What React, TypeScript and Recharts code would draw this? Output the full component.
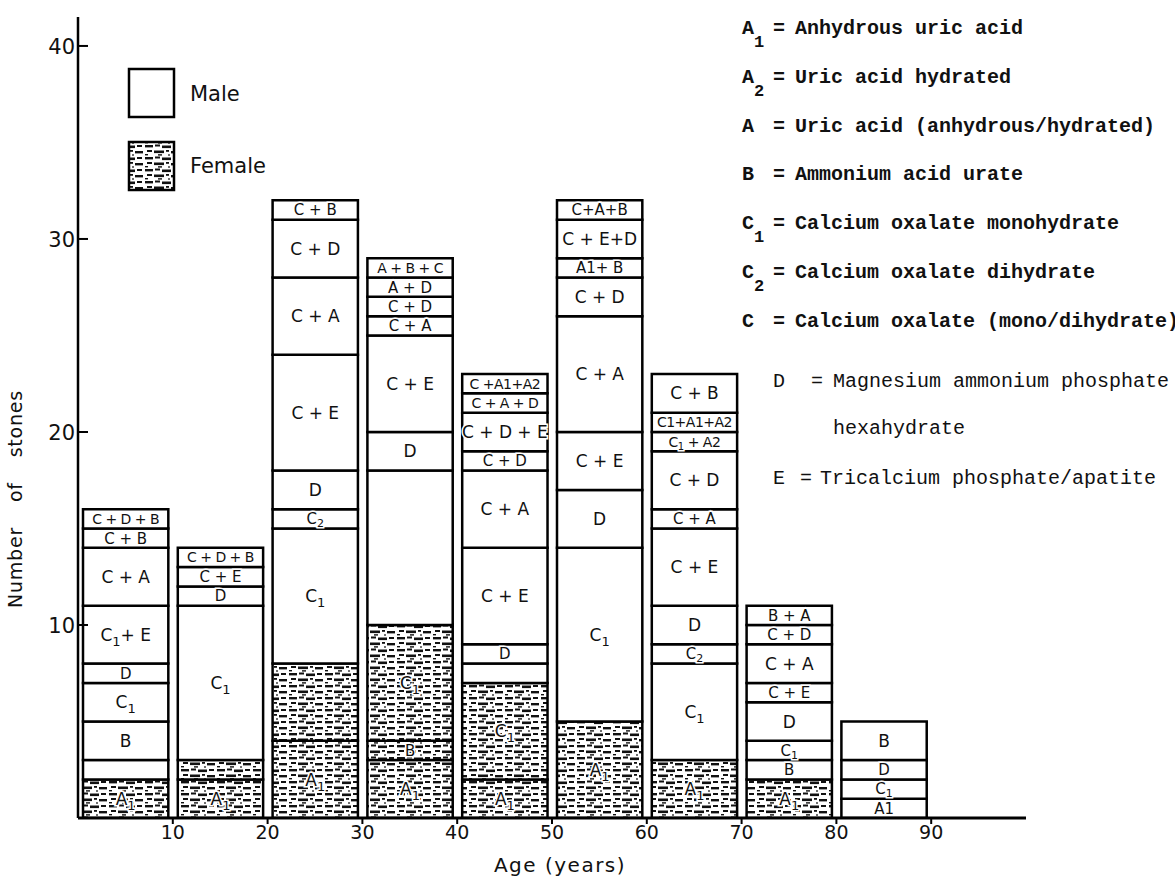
import { Bar, BarChart, LabelList, XAxis, YAxis, Cell } from "recharts";

// age groups (bin centres, years)
const ageMids = [5, 15, 25, 35, 45, 55, 65, 75, 85];

// stone counts per stacked segment, bottom to top
const segCounts = [
  [2, 1, 2, 2, 1, 3, 3, 1, 1],
  [2, 1, 8, 1, 1, 1],
  [4, 4, 7, 1, 2, 6, 4, 3, 1],
  [3, 1, 6, 8, 2, 5, 1, 1, 1, 1],
  [2, 5, 1, 1, 5, 4, 1, 2, 1, 1],
  [5, 9, 3, 3, 6, 2, 1, 2, 1],
  [3, 5, 1, 2, 4, 1, 3, 1, 1, 2],
  [2, 1, 1, 2, 1, 2, 1, 1],
  [1, 1, 1, 2],
];

// composition of each segment ("_" = subscript)
const segLabels = [
  ["A_1", "", "B", "C_1", "D", "C_1+ E", "C + A", "C + B", "C + D + B"],
  ["A_1", "", "C_1", "D", "C + E", "C + D + B"],
  ["A_1", "", "C_1", "C_2", "D", "C + E", "C + A", "C + D", "C + B"],
  ["A_1", "B", "C_1", "", "D", "C + E", "C + A", "C + D", "A + D", "A + B + C"],
  ["A_1", "C_1", "", "D", "C + E", "C + A", "C + D", "C + D + E", "C + A + D", "C +A1+A2"],
  ["A_1", "C_1", "D", "C + E", "C + A", "C + D", "A1+ B", "C + E+D", "C+A+B"],
  ["A_1", "C_1", "C_2", "D", "C + E", "C + A", "C + D", "C_1 + A2", "C1+A1+A2", "C + B"],
  ["A_1", "B", "C_1", "D", "C + E", "C + A", "C + D", "B + A"],
  ["A1", "C_1", "D", "B"],
];

// how many of the bottom segments are female stones
const femaleSegs = [1, 2, 2, 3, 2, 1, 1, 1, 0];

const yTicks = [10, 20, 30, 40];
const xTicks = [10, 20, 30, 40, 50, 60, 70, 80, 90];

const legendItems = ["Male", "Female"];

const keyRows = [
  { code: "A", sub: "1", text: "Anhydrous uric acid" },
  { code: "A", sub: "2", text: "Uric acid hydrated" },
  { code: "A", sub: "", text: "Uric acid (anhydrous/hydrated)" },
  { code: "B", sub: "", text: "Ammonium acid urate" },
  { code: "C", sub: "1", text: "Calcium oxalate monohydrate" },
  { code: "C", sub: "2", text: "Calcium oxalate dihydrate" },
  { code: "C", sub: "", text: "Calcium oxalate (mono/dihydrate)" },
];

const maxSegs = Math.max(...segCounts.map((s) => s.length));
const segKeys = Array.from({ length: maxSegs }, (_, i) => `s${i}`);

const data = ageMids.map((age, r) => {
  const row: Record<string, number | string> = { age };
  segKeys.forEach((k, i) => {
    row[k] = segCounts[r][i] ?? 0;
    row[`l${i}`] = segLabels[r][i] ?? "";
  });
  return row;
});

const PLOT_LEFT = 78;
const SANS = "DejaVu Sans, sans-serif";
const MONO = "Liberation Mono, Courier New, monospace";

function renderLabelText(txt: string, size: number) {
  const parts = txt.split("_");
  if (parts.length === 1) return txt;
  const drop = size > 16 ? 5 : 3;
  return (
    <>
      {parts[0]}
      <tspan dy={drop} fontSize={size - 4}>
        {parts[1].slice(0, 1)}
      </tspan>
      <tspan dy={-drop}>{parts[1].slice(1)}</tspan>
    </>
  );
}

const SegLabel = (props: any) => {
  const { x, y, width, height, value } = props;
  if (!value || !height) return null;
  const txt = String(value);
  const thin = height < 25;
  const size = thin ? (txt.length > 7 ? 14 : 15) : 17;
  return (
    <text
      x={x + width / 2}
      y={y + height / 2 + size * 0.36}
      textAnchor="middle"
      fontSize={size}
      fontFamily={SANS}
      fill="#111"
      stroke="#fff"
      strokeWidth={3}
      paintOrder="stroke"
      letterSpacing={thin && txt.length > 7 ? -0.5 : 0}
    >
      {renderLabelText(txt, size)}
    </text>
  );
};

const YTick = (props: any) => {
  const { y, payload } = props;
  return (
    <g>
      <line x1={PLOT_LEFT} x2={PLOT_LEFT + 10} y1={y} y2={y} stroke="#000" strokeWidth={2} />
      <text x={PLOT_LEFT - 3} y={y + 8} textAnchor="end" fontSize={21} fontFamily={SANS} fill="#111">
        {payload.value}
      </text>
    </g>
  );
};

export default function App() {
  return (
    <div style={{ position: "absolute", left: 0, top: 0, background: "#fff" }}>
      <BarChart
        width={1175}
        height={884}
        data={data}
        margin={{ top: 17, right: 149, bottom: 36, left: 18 }}
      >
        <defs>
          <pattern id="femaleFill" width="36" height="12" patternUnits="userSpaceOnUse">
            <rect width="36" height="12" fill="#fff" />
            <rect x="1" y="1" width="8" height="2.4" fill="#111" />
            <rect x="11" y="0.5" width="5" height="2" fill="#111" />
            <rect x="18" y="1.5" width="9" height="2.6" fill="#111" />
            <rect x="29" y="1" width="5" height="2" fill="#111" />
            <rect x="3" y="6" width="5" height="2" fill="#111" />
            <rect x="10" y="6.5" width="10" height="2.6" fill="#111" />
            <rect x="22" y="6" width="3" height="1.8" fill="#111" />
            <rect x="27" y="7" width="8" height="2.4" fill="#111" />
            <rect x="1" y="10" width="3" height="1.4" fill="#111" />
            <rect x="14" y="10.2" width="4" height="1.4" fill="#111" />
            <rect x="24" y="10.4" width="2" height="1.2" fill="#111" />
          </pattern>
        </defs>
        <XAxis
          type="number"
          dataKey="age"
          domain={[0, 100]}
          ticks={xTicks}
          allowDataOverflow
          height={30}
          axisLine={{ stroke: "#000", strokeWidth: 3 }}
          tickLine={{ stroke: "#000", strokeWidth: 2 }}
          tickSize={6}
          tick={{ fontSize: 19, fontFamily: SANS, fill: "#111" }}
        />
        <YAxis
          type="number"
          domain={[0, 41.5]}
          ticks={yTicks}
          allowDataOverflow
          width={60}
          axisLine={{ stroke: "#000", strokeWidth: 2.5 }}
          tickLine={false}
          tick={YTick}
        />
        {segKeys.map((k, i) => (
          <Bar
            key={k}
            dataKey={k}
            stackId="a"
            barSize={95}
            stroke="#000"
            strokeWidth={2.5}
            isAnimationActive={false}
          >
            {data.map((_, r) => (
              <Cell key={r} fill={i < femaleSegs[r] ? "url(#femaleFill)" : "#fff"} />
            ))}
            <LabelList dataKey={`l${i}`} content={SegLabel} />
          </Bar>
        ))}

        {/* axis titles */}
        <text
          x={22}
          y={499}
          transform="rotate(-90 22 499)"
          textAnchor="middle"
          fontSize={19}
          fontFamily={SANS}
          wordSpacing={18}
          letterSpacing={0.8}
          fill="#111"
        >
          Number of stones
        </text>
        <text x={560} y={872} textAnchor="middle" fontSize={20} fontFamily={SANS} letterSpacing={1.5} fill="#111">
          Age (years)
        </text>

        {/* male / female key */}
        {legendItems.map((name, i) => (
          <g key={name}>
            <rect
              x={129}
              y={69 + i * 73}
              width={45}
              height={48}
              fill={i === 1 ? "url(#femaleFill)" : "#fff"}
              stroke="#000"
              strokeWidth={2.5}
            />
            <text x={190} y={101 + i * 72} fontSize={21} fontFamily={SANS} fill="#111">
              {name}
            </text>
          </g>
        ))}

        {/* composition key */}
        {keyRows.map((row, i) => (
          <g key={i} fontFamily={MONO} fontSize={20} fontWeight="bold" fill="#111">
            <text x={742} y={34 + i * 48.8}>
              {row.code}
              {row.sub && (
                <tspan dy={13} fontSize={17}>
                  {row.sub}
                </tspan>
              )}
            </text>
            <text x={773} y={34 + i * 48.8}>=</text>
            <text x={795} y={34 + i * 48.8}>{row.text}</text>
          </g>
        ))}
        <g fontFamily={MONO} fontSize={20} fill="#111">
          <text x={773} y={387}>D</text>
          <text x={811} y={387}>=</text>
          <text x={833} y={387}>Magnesium ammonium phosphate</text>
          <text x={833} y={434}>hexahydrate</text>
          <text x={773} y={484}>E</text>
          <text x={800} y={484}>=</text>
          <text x={820} y={484}>Tricalcium phosphate/apatite</text>
        </g>
      </BarChart>
    </div>
  );
}
